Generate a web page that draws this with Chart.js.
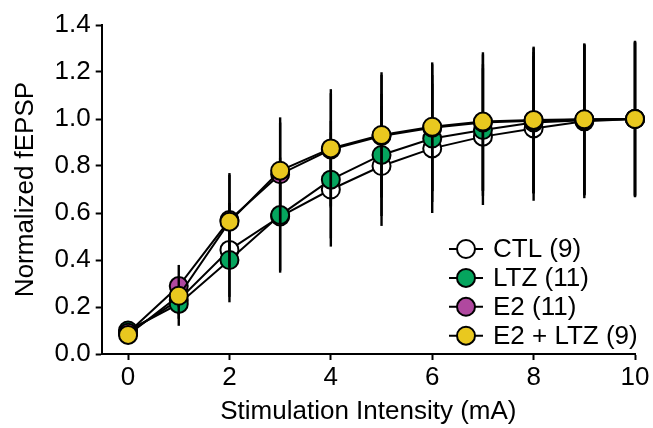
<!DOCTYPE html>
<html>
<head>
<meta charset="utf-8">
<script src="https://cdn.jsdelivr.net/npm/chart.js@4.4.0/dist/chart.umd.min.js"></script>
<style>
  html, body { margin: 0; padding: 0; background: #fff; }
</style>
</head>
<body>
<canvas id="chart" width="653" height="428"></canvas>
<script>
// stimulation intensity (mA)
const intensity = [0, 1, 2, 3, 4, 5, 6, 7, 8, 9, 10];

// normalized fEPSP, mean and error per group
const ctlMean   = [0.09, 0.23, 0.443, 0.585, 0.70, 0.80, 0.875, 0.925, 0.96, 0.99, 1.0];
const ctlErr    = [0.02, 0.08, 0.20, 0.23, 0.243, 0.255, 0.275, 0.291, 0.308, 0.327, 0.333];
const ltzMean   = [0.10, 0.213, 0.40, 0.591, 0.742, 0.847, 0.917, 0.953, 0.985, 0.995, 1.0];
const ltzErr    = [0.02, 0.093, 0.18, 0.245, 0.25, 0.26, 0.27, 0.28, 0.30, 0.32, 0.33];
const e2Mean    = [0.09, 0.289, 0.57, 0.765, 0.87, 0.928, 0.963, 0.985, 0.993, 0.998, 1.0];
const e2Err     = [0.02, 0.09, 0.20, 0.22, 0.24, 0.26, 0.27, 0.29, 0.31, 0.32, 0.326];
const e2ltzMean = [0.081, 0.248, 0.563, 0.78, 0.875, 0.932, 0.967, 0.989, 0.996, 0.999, 1.0];
const e2ltzErr  = [0.02, 0.08, 0.20, 0.227, 0.252, 0.267, 0.274, 0.295, 0.312, 0.323, 0.326];

const groupNames = ['CTL (9)', 'LTZ (11)', 'E2 (11)', 'E2 + LTZ (9)'];
const xTicks = [0, 2, 4, 6, 8, 10];
const yTicks = [0, 0.2, 0.4, 0.6, 0.8, 1.0, 1.2, 1.4];

const FONT = "'Liberation Sans', Arial, Helvetica, sans-serif";

function pts(means) {
  return intensity.map((x, i) => ({ x: x, y: means[i] }));
}

function series(label, means, errs, fill, order) {
  return {
    label: label,
    data: pts(means),
    errorBars: errs,
    borderColor: '#000',
    borderWidth: 2,
    backgroundColor: fill,
    pointBackgroundColor: fill,
    pointBorderColor: '#000',
    pointBorderWidth: 2,
    pointRadius: 9,
    pointHoverRadius: 9,
    tension: 0,
    clip: false,
    order: order
  };
}

// error bars drawn just before each group's own line and markers
const errorBarPlugin = {
  id: 'errorBars',
  beforeDatasetDraw(chart, args) {
    const ds = chart.data.datasets[args.index];
    const xs = chart.scales.x, ys = chart.scales.y;
    const ctx = chart.ctx;
    ctx.save();
    ctx.strokeStyle = '#000';
    ctx.lineWidth = 2.4;
    ds.data.forEach((p, i) => {
      const e = ds.errorBars[i];
      const px = xs.getPixelForValue(p.x);
      ctx.beginPath();
      ctx.moveTo(px, ys.getPixelForValue(p.y + e));
      ctx.lineTo(px, ys.getPixelForValue(p.y - e));
      ctx.stroke();
    });
    ctx.restore();
  }
};

// legend with line through marker, drawn inside the plot
const legendPlugin = {
  id: 'lineLegend',
  afterDraw(chart) {
    const ctx = chart.ctx;
    const mx = 466, tx = 493, y0 = 249, step = 28.9;
    ctx.save();
    chart.data.datasets.forEach((ds, i) => {
      const y = y0 + i * step;
      ctx.strokeStyle = '#000';
      ctx.lineWidth = 2;
      ctx.beginPath();
      ctx.moveTo(mx - 17, y);
      ctx.lineTo(mx + 17, y);
      ctx.stroke();
      ctx.beginPath();
      ctx.arc(mx, y, 9, 0, Math.PI * 2);
      ctx.fillStyle = ds.pointBackgroundColor;
      ctx.fill();
      ctx.stroke();
      ctx.fillStyle = '#000';
      ctx.font = '26px ' + FONT;
      ctx.textBaseline = 'middle';
      ctx.textAlign = 'left';
      ctx.fillText(ds.label, tx, y + 1);
    });
    ctx.restore();
  }
};

new Chart(document.getElementById('chart'), {
  type: 'line',
  data: {
    datasets: [
      series(groupNames[0], ctlMean, ctlErr, '#ffffff', 4),
      series(groupNames[1], ltzMean, ltzErr, '#05a55e', 3),
      series(groupNames[2], e2Mean, e2Err, '#b0489f', 2),
      series(groupNames[3], e2ltzMean, e2ltzErr, '#e9c81f', 1)
    ]
  },
  options: {
    responsive: false,
    devicePixelRatio: 1,
    animation: false,
    layout: { padding: { top: 25, right: 18, left: 0, bottom: 0 } },
    plugins: {
      legend: { display: false },
      tooltip: { enabled: false }
    },
    scales: {
      x: {
        type: 'linear',
        min: -0.52,
        max: 10,
        afterBuildTicks(scale) { scale.ticks = xTicks.map(v => ({ value: v })); },
        afterFit(scale) { scale.height = 74; },
        border: { display: true, color: '#000', width: 2 },
        grid: { drawOnChartArea: false, drawTicks: true, tickLength: 6, tickWidth: 2, tickColor: '#000' },
        ticks: { color: '#000', padding: 2, maxRotation: 0, font: { family: FONT, size: 26 } },
        title: {
          display: true,
          text: 'Stimulation Intensity (mA)',
          color: '#000',
          font: { family: FONT, size: 26 },
          padding: { top: 0, bottom: 1 }
        }
      },
      y: {
        min: 0,
        max: 1.4,
        afterBuildTicks(scale) { scale.ticks = yTicks.map(v => ({ value: v })); },
        afterFit(scale) { scale.width = 101.7; },
        border: { display: true, color: '#000', width: 2 },
        grid: { drawOnChartArea: false, drawTicks: true, tickLength: 6, tickWidth: 2, tickColor: '#000' },
        ticks: {
          color: '#000',
          padding: 5,
          font: { family: FONT, size: 26 },
          callback: v => v.toFixed(1)
        },
        title: {
          display: true,
          text: 'Normalized fEPSP',
          color: '#000',
          font: { family: FONT, size: 26 },
          padding: { top: 10, bottom: 0 }
        }
      }
    }
  },
  plugins: [errorBarPlugin, legendPlugin]
});
</script>
</body>
</html>
